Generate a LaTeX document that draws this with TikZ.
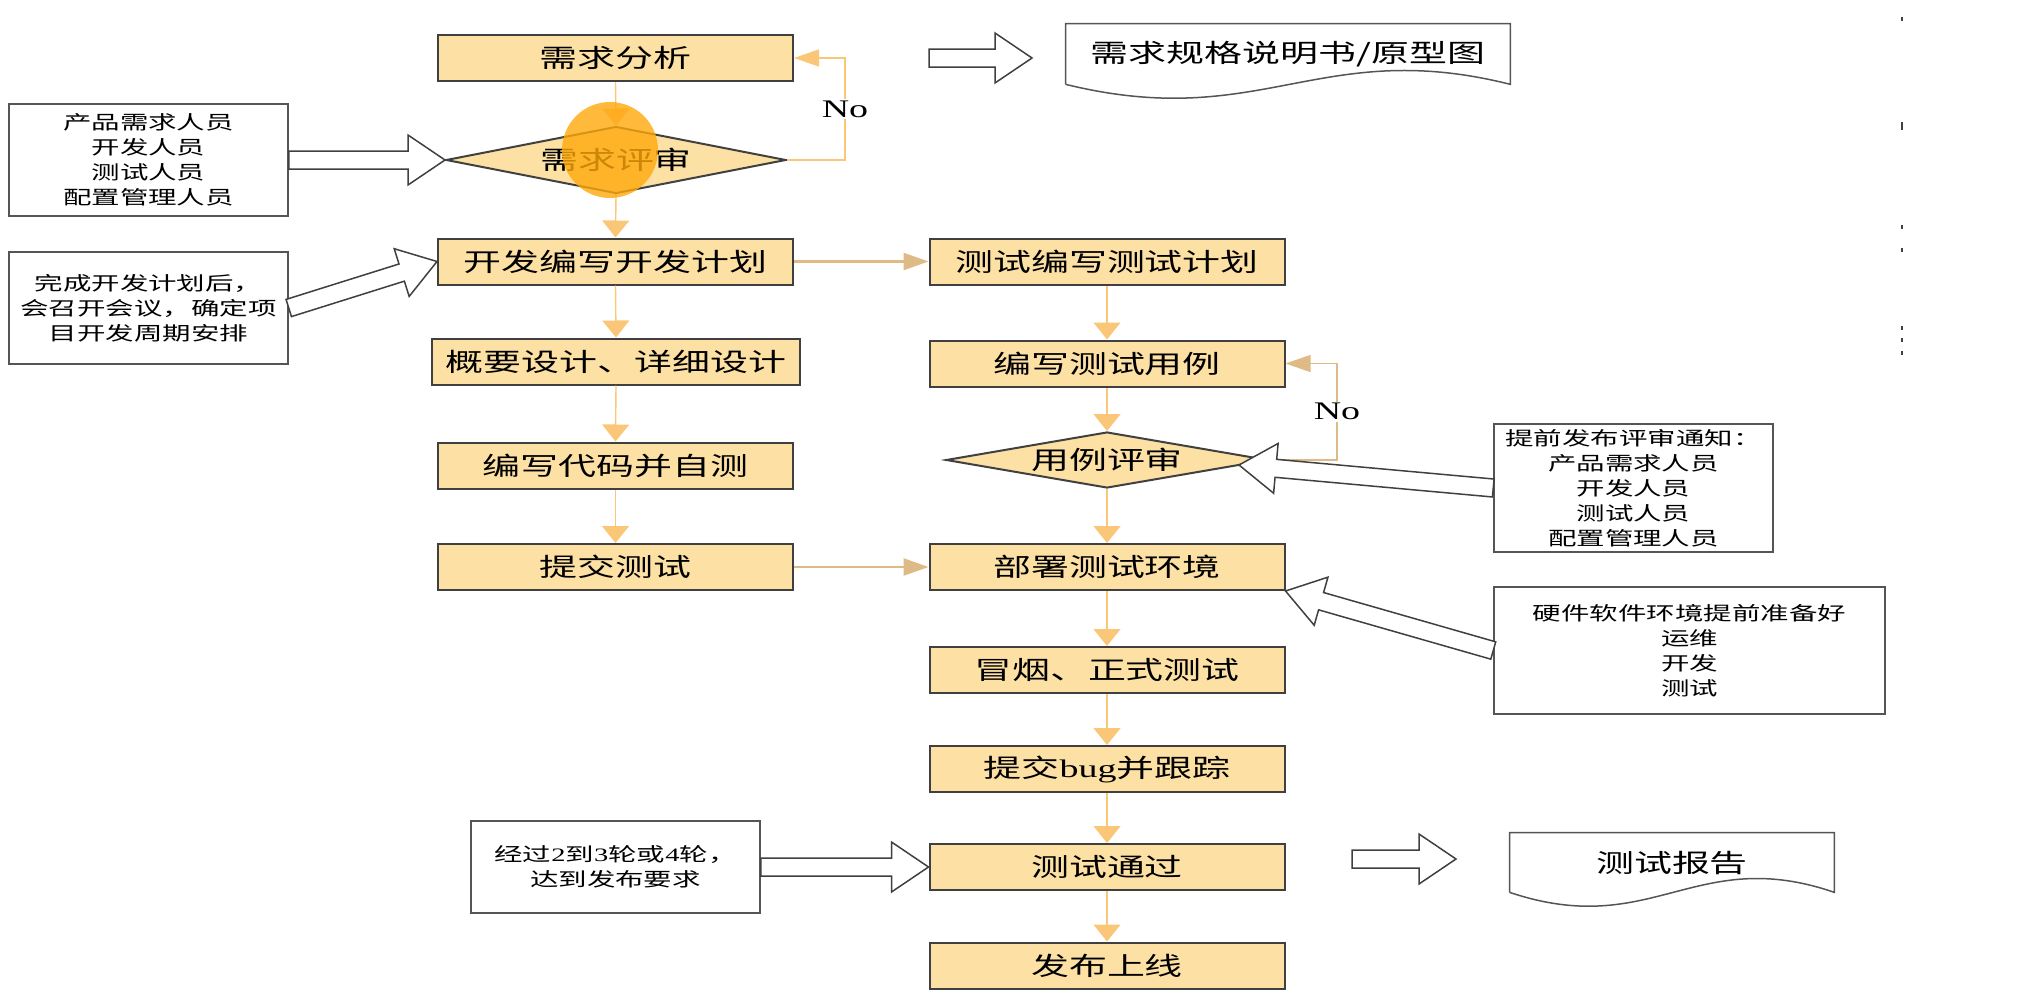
\documentclass[tikz,border=0pt]{standalone}
\usepackage{fontspec}
\setmainfont{Noto Sans CJK SC}[FakeStretch=1.5]
\newfontfamily\serifl{Liberation Serif}[FakeStretch=1.5]
\usepackage{xcolor}
\usepackage{tikz}
\usetikzlibrary{arrows.meta,positioning,shapes.geometric,calc}

\definecolor{boxfill}{RGB}{252,224,164}
\definecolor{boxline}{RGB}{64,64,64}
\definecolor{noteline}{RGB}{85,85,85}
\definecolor{flow}{RGB}{250,198,120}
\definecolor{flowdark}{RGB}{222,186,135}
\definecolor{hilite}{RGB}{255,168,10}

\newcommand{\bigtxt}{\fontsize{14.4pt}{17pt}\selectfont}
\newcommand{\smalltxt}{\fontsize{10.8pt}{14.2pt}\selectfont}

% hollow block arrow from #1 to #2
\newcommand{\hollowarrow}[2]{%
  \path ($(#2)!7.4mm!(#1)$) coordinate (hb);
  \draw[hollow] ($(#1)!1.8mm!90:(#2)$) -- ($(hb)!1.8mm!-90:(#1)$) -- ($(hb)!5mm!-90:(#1)$) -- (#2)
    -- ($(hb)!5mm!90:(#1)$) -- ($(hb)!1.8mm!90:(#1)$) -- ($(#1)!1.8mm!-90:(#2)$) -- cycle;
}
% document outline with wavy bottom
\newcommand{\docoutline}[1]{%
  \draw[docline] (#1.south west) -- (#1.north west) -- (#1.north east) -- (#1.south east)
    .. controls ($(#1.south east)!0.43!(#1.south west)+(0,-48)$) and ($(#1.south east)!0.56!(#1.south west)+(0,48)$) .. (#1.south west);
}

\begin{document}
\begin{tikzpicture}[x=0.2mm, y=-0.2mm,
    box/.style={draw=boxline, line width=0.4mm, fill=boxfill, minimum width=71mm, minimum height=9.2mm, inner sep=0pt, font=\bigtxt},
    decision/.style={diamond, aspect=5, draw=boxline, line width=0.4mm, fill=boxfill, minimum width=68mm, minimum height=13.4mm, inner sep=0pt, font=\bigtxt},
    note/.style={draw=noteline, line width=0.3mm, fill=white, align=center, inner sep=0pt, font=\smalltxt},
    docnode/.style={inner sep=0pt, font=\bigtxt},
    docline/.style={draw=noteline, line width=0.3mm},
    varr/.style={-{Triangle[length=3.4mm, width=5.4mm]}, flow, line width=0.28mm},
    harr/.style={-{Triangle[length=5mm, width=3.4mm]}, flow, line width=0.28mm},
    hollow/.style={draw=boxline, line width=0.3mm, fill=white, line join=miter},
    nolabel/.style={fill=white, text=black, inner sep=1pt, font=\serifl\bigtxt}
]
    \useasboundingbox (0,0) rectangle (2023,1000);

    % Development column
    \node[box] (req) at (615.5, 58) {需求分析};
    \node[decision] (revw) at (616, 160) {需求评审};
    \node[box] (devplan) at (615.5, 261.5) {开发编写开发计划};
    \node[box, minimum width=73.6mm] (design) at (616, 361.5) {概要设计、详细设计};
    \node[box] (code) at (615.5, 465.5) {编写代码并自测};
    \node[box] (submit) at (615.5, 567) {提交测试};

    % Test column
    \node[box] (tplan) at (1107, 261.5) {测试编写测试计划};
    \node[box] (cases) at (1107, 363.5) {编写测试用例};
    \node[decision, minimum width=64.4mm, minimum height=11.2mm] (crevw) at (1107, 460) {用例评审};
    \node[box] (deploy) at (1107, 567) {部署测试环境};
    \node[box] (smoke) at (1107, 670) {冒烟、正式测试};
    \node[box] (bug) at (1107, 769) {提交{\serifl bug}并跟踪};
    \node[box] (pass) at (1107, 867) {测试通过};
    \node[box] (release) at (1107, 965.5) {发布上线};

    % Notes
    \node[note, minimum width=55.8mm, minimum height=22.4mm] (staff) at (148.5, 160) {产品需求人员\\开发人员\\测试人员\\配置管理人员};
    \node[note, minimum width=55.8mm, minimum height=22.4mm] (meet) at (148.5, 308) {完成开发计划后，\\会召开会议，确定项\\目开发周期安排};
    \node[note, minimum width=57.8mm, minimum height=18.4mm] (rounds) at (615.5, 867) {经过{\serifl 2}到{\serifl 3}轮或{\serifl 4}轮，\\达到发布要求};
    \node[note, minimum width=55.8mm, minimum height=25.6mm] (notify) at (1633.5, 488) {提前发布评审通知：\\产品需求人员\\开发人员\\测试人员\\配置管理人员};
    \node[note, minimum width=78.2mm, minimum height=25.4mm] (env) at (1689.5, 650.5) {硬件软件环境提前准备好\\运维\\开发\\测试};

    % Documents
    \node[docnode, minimum width=88.8mm, minimum height=12mm] (spec) at (1288, 54) {需求规格说明书/原型图};
    \node[docnode, minimum width=64.8mm, minimum height=11.8mm] (report) at (1672, 862.5) {测试报告};
    \docoutline{spec}
    \docoutline{report}

    % Flow
    \draw[varr] (req.south) -- (revw.north);
    \draw[varr] (revw.south) -- (devplan.north);
    \draw[varr] (devplan.south) -- (design.north);
    \draw[varr] (design.south) -- (code.north);
    \draw[varr] (code.south) -- (submit.north);
    \draw[varr] (tplan.south) -- (cases.north);
    \draw[varr] (cases.south) -- (crevw.north);
    \draw[varr] (crevw.south) -- (deploy.north);
    \draw[varr] (deploy.south) -- (smoke.north);
    \draw[varr] (smoke.south) -- (bug.north);
    \draw[varr] (bug.south) -- (pass.north);
    \draw[varr] (pass.south) -- (release.north);
    \draw[harr, draw=flowdark, line width=0.5mm] (devplan.east) -- (tplan.west);
    \draw[harr, draw=flowdark, line width=0.5mm] (submit.east) -- (deploy.west);

    % Review loops
    \draw[harr] (revw.east) -- ++(58,0) |- node[pos=0.25, nolabel] {No} (req.east);
    \draw[harr, draw=flowdark] (crevw.east) -- ++(68,0) |- node[pos=0.25, nolabel] {No} (cases.east);

    % Block arrows
    \coordinate (spectail) at (929, 58);
    \coordinate (spectip) at (1032, 58);
    \coordinate (reptail) at (1352, 859);
    \coordinate (reptip) at (1456, 859);
    \coordinate (crevwtip) at ($(crevw.east)+(-30,5)$);
    \hollowarrow{staff.east}{revw.west}
    \hollowarrow{meet.east}{devplan.west}
    \hollowarrow{notify.west}{crevwtip}
    \hollowarrow{env.west}{deploy.south east}
    \hollowarrow{rounds.east}{pass.west}
    \hollowarrow{spectail}{spectip}
    \hollowarrow{reptail}{reptip}

    % Pointer highlight
    \fill[hilite, opacity=0.8] (610, 150) circle [radius=48];

    % Edge marks
    \foreach \ty in {19,227,250,328,340,353}
        \fill[black!75] (1901, \ty-2) rectangle (1903, \ty+2);
    \fill[black!75] (1901, 122) rectangle (1903, 130);
\end{tikzpicture}
\end{document}
